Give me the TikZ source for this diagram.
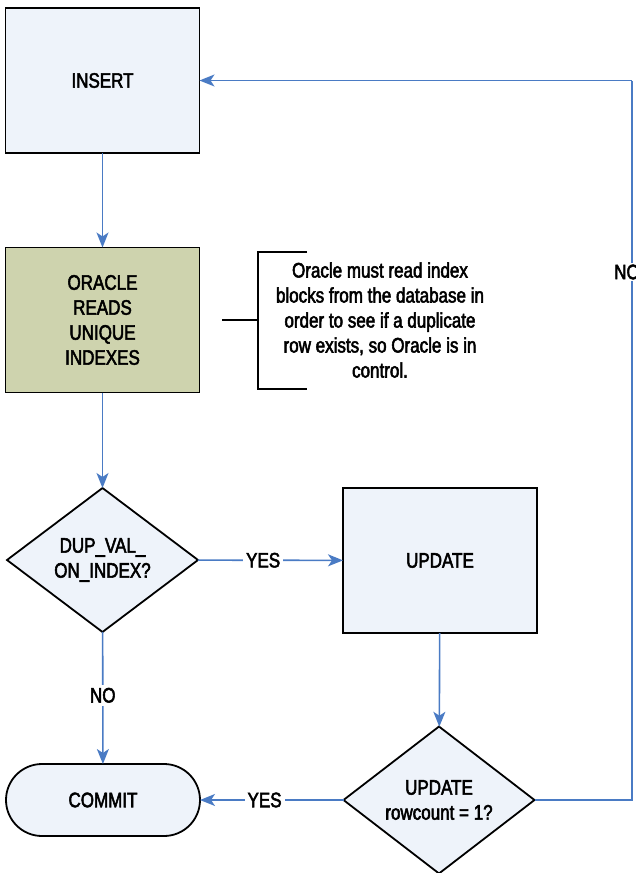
\documentclass[tikz,border=0pt]{standalone}
\usepackage{fontspec}
\setmainfont{Liberation Sans}[FakeStretch=0.81,FakeBold=2.5]
\usetikzlibrary{shapes.geometric,arrows.meta}
\definecolor{boxfill}{HTML}{EEF3FA}
\definecolor{olive}{HTML}{CED3AE}
\definecolor{flowblue}{HTML}{4A7BC4}
\tikzset{
  base/.style={draw=black, line width=1.8pt, fill=boxfill, font=\fontsize{21}{25}\selectfont, align=center, inner sep=0pt, outer sep=0pt},
  procbox/.style={base, rectangle, minimum width=194pt, minimum height=145pt},
  decision/.style={base, diamond, minimum width=191pt, minimum height=144pt},
  terminal/.style={base, rectangle, rounded corners=36pt, minimum width=194pt, minimum height=72pt},
  flow/.style={draw=flowblue, line width=1.6pt, -{Stealth[length=15pt,width=12pt,inset=4pt]}},
  flowline/.style={draw=flowblue, line width=1.6pt},
  lbl/.style={fill=white, font=\fontsize{21}{25}\selectfont, inner sep=3pt},
  notetext/.style={font=\fontsize{21}{25}\selectfont, align=center, inner sep=0pt},
  bracket/.style={draw=black, line width=1.5pt}
}
\begin{document}
\begin{tikzpicture}[x=1pt,y=-1pt]
\useasboundingbox (0,0) rectangle (636,873);
\node[procbox] (insert) at (102.5,80.5) {INSERT};
\node[procbox, fill=olive] (oracle) at (102.5,320) {ORACLE\\READS\\UNIQUE\\INDEXES};
\node[decision] (dup) at (102.5,560) {DUP\_VAL\_\\ON\_INDEX?};
\node[procbox] (update) at (440,560.5) {UPDATE};
\node[decision] (rc) at (439,800) {UPDATE\\rowcount = 1?};
\node[terminal] (commit) at (103,800) {COMMIT};
\node[notetext] (note) at (380,320) {Oracle must read index\\blocks from the database in\\order to see if a duplicate\\row exists, so Oracle is in\\control.};
\coordinate (bt) at (307,252);
\coordinate (bb) at (307,389);
\coordinate (bm) at (258,320);
\coordinate (bs) at (222,320);
\draw[bracket] (bt) -- (258,252) -- (258,389) -- (bb);
\draw[bracket] (bs) -- (bm);
\draw[flow] (insert) -- (oracle);
\draw[flow] (oracle) -- (dup);
\draw[flow] (dup) -- node[lbl, pos=0.45] (yes1) {YES} (update);
\draw[flow] (dup) -- node[lbl, pos=0.48] (no1) {NO} (commit);
\draw[flow] (update) -- (rc);
\draw[flow] (rc) -- node[lbl, pos=0.55] (yes2) {YES} (commit);
\coordinate (lc1) at (632,800);
\coordinate (lc2) at (632,80.5);
\draw[flowline] (rc.east) -- (lc1) -- (lc2);
\draw[flow] (lc2) -- (insert.east);
\node[lbl, inner sep=2pt] (no2) at (627,272) {NO};
\end{tikzpicture}
\end{document}
